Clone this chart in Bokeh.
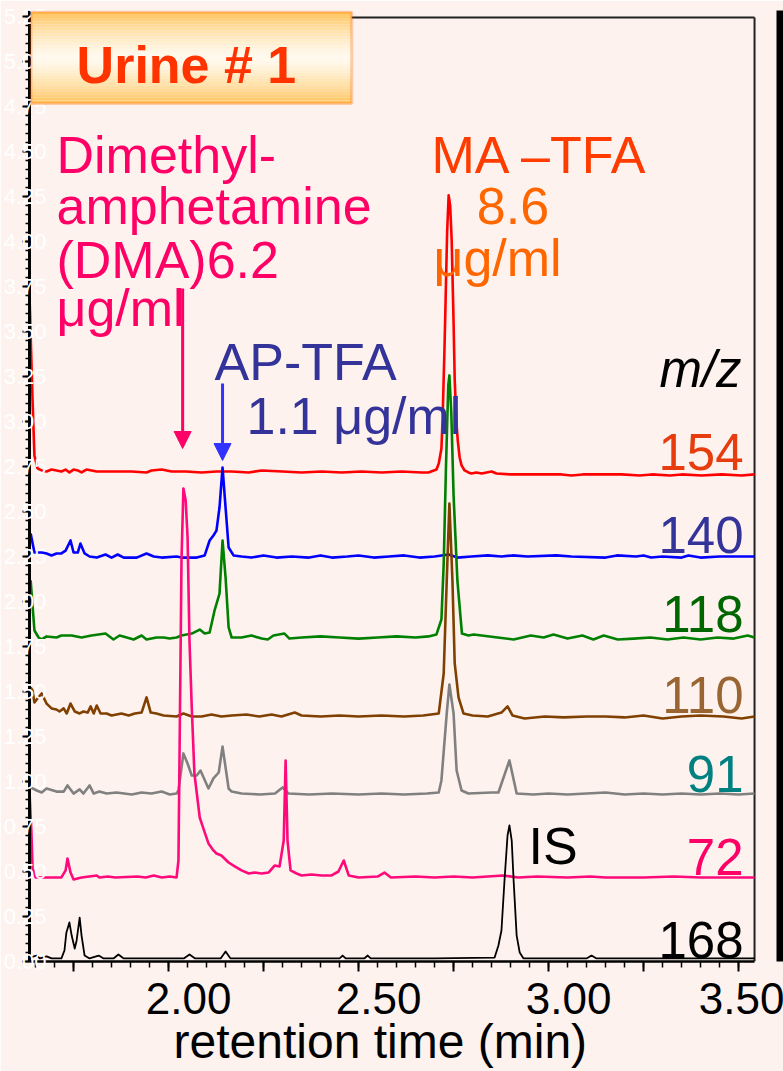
from bokeh.plotting import figure
from bokeh.models import (Range1d, SingleIntervalTicker, FixedTicker, Label, BoxAnnotation,
                          Arrow, NormalHead, NumeralTickFormatter, LinearAxis,
                          CustomJSTickFormatter)
from bokeh.core.properties import value
from bokeh.embed import file_html
from bokeh.resources import INLINE

BG = "#fdf2ee"
FONT = "Liberation Sans"

# ---------------- data (retention time in min, stacked intensity) -------------
mz154 = [(1.634, 3.70), (1.642, 3.12), (1.647, 2.81), (1.655, 2.74), (1.666, 2.728), (1.679, 2.722),
         (1.692, 2.733), (1.705, 2.728), (1.718, 2.722), (1.729, 2.733), (1.739, 2.717), (1.750, 2.733),
         (1.761, 2.728), (1.771, 2.717), (1.784, 2.733), (1.811, 2.722), (1.850, 2.722), (1.903, 2.722),
         (1.942, 2.717), (1.955, 2.728), (1.982, 2.733), (2.008, 2.722), (2.045, 2.722), (2.087, 2.717),
         (2.126, 2.722), (2.166, 2.722), (2.211, 2.717), (2.245, 2.728), (2.300, 2.722), (2.350, 2.717),
         (2.403, 2.722), (2.455, 2.717), (2.508, 2.722), (2.561, 2.717), (2.613, 2.722), (2.666, 2.717),
         (2.684, 2.717), (2.705, 2.733), (2.711, 2.767), (2.718, 2.85), (2.721, 3.006), (2.726, 3.40),
         (2.729, 3.672), (2.733, 4.05), (2.737, 4.256), (2.741, 4.20), (2.745, 4.006), (2.750, 3.55),
         (2.753, 3.228), (2.758, 2.98), (2.761, 2.894), (2.766, 2.80), (2.771, 2.756), (2.779, 2.728),
         (2.789, 2.717), (2.797, 2.711), (2.810, 2.717), (2.824, 2.711), (2.837, 2.717), (2.850, 2.722),
         (2.863, 2.711), (2.900, 2.706), (2.955, 2.706), (3.034, 2.706), (3.060, 2.700), (3.090, 2.706),
         (3.139, 2.706), (3.192, 2.706), (3.240, 2.700), (3.271, 2.706), (3.320, 2.700), (3.350, 2.706),
         (3.403, 2.700), (3.455, 2.706), (3.508, 2.700), (3.542, 2.706)]

mz140 = [(1.637, 2.378), (1.647, 2.272), (1.666, 2.272), (1.679, 2.267), (1.692, 2.256), (1.705, 2.267),
         (1.718, 2.267), (1.729, 2.283), (1.742, 2.339), (1.750, 2.272), (1.761, 2.272), (1.768, 2.322),
         (1.779, 2.267), (1.792, 2.25), (1.811, 2.244), (1.834, 2.261), (1.850, 2.244), (1.866, 2.261),
         (1.882, 2.244), (1.916, 2.244), (1.942, 2.267), (1.961, 2.25), (1.982, 2.244), (2.021, 2.25),
         (2.034, 2.244), (2.074, 2.244), (2.095, 2.256), (2.108, 2.339), (2.118, 2.367), (2.126, 2.394),
         (2.134, 2.522), (2.142, 2.744), (2.150, 2.522), (2.158, 2.30), (2.171, 2.256), (2.192, 2.25),
         (2.218, 2.244), (2.250, 2.256), (2.284, 2.244), (2.324, 2.25), (2.370, 2.244), (2.400, 2.256),
         (2.430, 2.244), (2.470, 2.25), (2.500, 2.256), (2.540, 2.244), (2.580, 2.25), (2.620, 2.256),
         (2.660, 2.244), (2.700, 2.25), (2.737, 2.261), (2.760, 2.244), (2.797, 2.25), (2.840, 2.256),
         (2.876, 2.25), (2.905, 2.256), (2.945, 2.25), (3.020, 2.256), (3.060, 2.25), (3.150, 2.244),
         (3.180, 2.256), (3.230, 2.25), (3.250, 2.256), (3.270, 2.244), (3.300, 2.25), (3.350, 2.244),
         (3.368, 2.256), (3.400, 2.244), (3.450, 2.25), (3.542, 2.25)]

mz118 = [(1.637, 2.117), (1.647, 1.839), (1.658, 1.80), (1.666, 1.789), (1.679, 1.806), (1.705, 1.80),
         (1.718, 1.811), (1.745, 1.811), (1.771, 1.80), (1.797, 1.811), (1.834, 1.822), (1.855, 1.789),
         (1.871, 1.811), (1.890, 1.80), (1.908, 1.789), (1.929, 1.811), (1.942, 1.789), (1.968, 1.80),
         (1.987, 1.80), (2.003, 1.794), (2.021, 1.80), (2.034, 1.811), (2.061, 1.822), (2.082, 1.844),
         (2.095, 1.822), (2.108, 1.828), (2.121, 1.95), (2.134, 2.044), (2.142, 2.339), (2.150, 2.133),
         (2.158, 1.856), (2.166, 1.80), (2.192, 1.80), (2.218, 1.811), (2.245, 1.794), (2.261, 1.789),
         (2.276, 1.811), (2.305, 1.822), (2.318, 1.794), (2.350, 1.80), (2.400, 1.806), (2.450, 1.80),
         (2.500, 1.794), (2.550, 1.80), (2.600, 1.806), (2.650, 1.80), (2.684, 1.806), (2.705, 1.817),
         (2.718, 1.90), (2.724, 2.21), (2.730, 2.75), (2.736, 3.20), (2.739, 3.256), (2.744, 3.05),
         (2.750, 2.589), (2.760, 2.117), (2.772, 1.822), (2.789, 1.811), (2.803, 1.817), (2.866, 1.80),
         (2.908, 1.789), (2.953, 1.811), (2.987, 1.80), (3.013, 1.817), (3.050, 1.794), (3.089, 1.811),
         (3.118, 1.789), (3.145, 1.811), (3.182, 1.789), (3.224, 1.794), (3.268, 1.80), (3.313, 1.789),
         (3.355, 1.80), (3.400, 1.789), (3.445, 1.80), (3.487, 1.794), (3.524, 1.811), (3.542, 1.80)]

mz110 = [(1.637, 1.522), (1.642, 1.506), (1.647, 1.439), (1.655, 1.461), (1.666, 1.489), (1.679, 1.433),
         (1.692, 1.406), (1.705, 1.40), (1.713, 1.389), (1.724, 1.406), (1.732, 1.378), (1.742, 1.433),
         (1.753, 1.389), (1.766, 1.378), (1.776, 1.389), (1.787, 1.383), (1.795, 1.417), (1.803, 1.378),
         (1.811, 1.422), (1.821, 1.378), (1.837, 1.378), (1.850, 1.367), (1.876, 1.378), (1.895, 1.367),
         (1.911, 1.378), (1.929, 1.383), (1.942, 1.467), (1.953, 1.383), (1.968, 1.378), (1.987, 1.367),
         (2.021, 1.361), (2.039, 1.378), (2.061, 1.361), (2.087, 1.361), (2.113, 1.372), (2.139, 1.361),
         (2.166, 1.367), (2.205, 1.372), (2.239, 1.361), (2.271, 1.372), (2.297, 1.361), (2.332, 1.383),
         (2.350, 1.367), (2.400, 1.361), (2.450, 1.367), (2.500, 1.361), (2.560, 1.367), (2.620, 1.361),
         (2.670, 1.367), (2.711, 1.378), (2.724, 1.60), (2.732, 2.117), (2.739, 2.544), (2.747, 2.117),
         (2.753, 1.656), (2.763, 1.467), (2.776, 1.378), (2.800, 1.367), (2.840, 1.361), (2.876, 1.383),
         (2.892, 1.417), (2.905, 1.367), (2.937, 1.35), (2.990, 1.361), (3.040, 1.356), (3.100, 1.361),
         (3.150, 1.361), (3.200, 1.356), (3.250, 1.367), (3.300, 1.350), (3.350, 1.361), (3.400, 1.367),
         (3.460, 1.361), (3.508, 1.350), (3.542, 1.361)]

mz91 = [(1.637, 0.967), (1.653, 0.95), (1.666, 0.939), (1.679, 0.961), (1.705, 0.944), (1.724, 0.944),
        (1.734, 0.978), (1.750, 0.933), (1.766, 0.956), (1.776, 0.933), (1.792, 0.978), (1.803, 0.933),
        (1.818, 0.944), (1.837, 0.933), (1.863, 0.939), (1.903, 0.928), (1.929, 0.939), (1.955, 0.933),
        (1.982, 0.944), (2.003, 0.928), (2.021, 0.933), (2.026, 0.95), (2.039, 1.156), (2.050, 1.10),
        (2.061, 1.033), (2.074, 1.033), (2.084, 1.061), (2.105, 0.961), (2.118, 1.017), (2.132, 1.05),
        (2.142, 1.194), (2.158, 0.961), (2.166, 0.944), (2.192, 0.933), (2.240, 0.928), (2.280, 0.933),
        (2.300, 0.967), (2.316, 0.933), (2.370, 0.928), (2.430, 0.933), (2.500, 0.928), (2.560, 0.933),
        (2.620, 0.928), (2.680, 0.933), (2.711, 0.939), (2.718, 1.006), (2.732, 1.378), (2.739, 1.539),
        (2.750, 1.378), (2.758, 1.061), (2.771, 0.95), (2.789, 0.933), (2.850, 0.939), (2.868, 0.939),
        (2.897, 1.117), (2.916, 0.933), (2.960, 0.928), (3.000, 0.933), (3.050, 0.928), (3.100, 0.933),
        (3.150, 0.939), (3.200, 0.928), (3.250, 0.933), (3.300, 0.928), (3.350, 0.933), (3.400, 0.928),
        (3.450, 0.933), (3.500, 0.928), (3.542, 0.933)]

mz72 = [(1.634, 0.939), (1.639, 0.72), (1.642, 0.517), (1.650, 0.467), (1.680, 0.467), (1.718, 0.467),
        (1.729, 0.506), (1.734, 0.572), (1.742, 0.494), (1.750, 0.456), (1.771, 0.467), (1.811, 0.478),
        (1.818, 0.467), (1.840, 0.472), (1.860, 0.467), (1.918, 0.472), (1.940, 0.467), (1.961, 0.478),
        (1.982, 0.467), (2.003, 0.472), (2.021, 0.467), (2.026, 0.561), (2.031, 1.60), (2.034, 2.228),
        (2.039, 2.628), (2.045, 2.561), (2.050, 2.356), (2.055, 1.783), (2.061, 1.411), (2.068, 1.044),
        (2.082, 0.80), (2.095, 0.717), (2.105, 0.656), (2.118, 0.617), (2.126, 0.60), (2.139, 0.589),
        (2.158, 0.55), (2.174, 0.528), (2.192, 0.506), (2.211, 0.489), (2.226, 0.494), (2.245, 0.489),
        (2.263, 0.494), (2.279, 0.533), (2.292, 0.528), (2.303, 0.672), (2.308, 1.117), (2.313, 0.672),
        (2.321, 0.506), (2.337, 0.489), (2.350, 0.478), (2.376, 0.483), (2.403, 0.478), (2.429, 0.478),
        (2.447, 0.50), (2.461, 0.561), (2.474, 0.478), (2.500, 0.467), (2.550, 0.472), (2.568, 0.494),
        (2.585, 0.467), (2.650, 0.472), (2.700, 0.467), (2.750, 0.472), (2.800, 0.467), (2.880, 0.478),
        (2.920, 0.467), (2.970, 0.472), (3.050, 0.467), (3.110, 0.472), (3.150, 0.467), (3.250, 0.467),
        (3.330, 0.472), (3.400, 0.467), (3.450, 0.467), (3.542, 0.467)]

mz168 = [(1.634, 0.017), (1.645, 0.028), (1.653, 0.033), (1.661, 0.017), (1.679, 0.028), (1.692, 0.017),
         (1.718, 0.017), (1.726, 0.061), (1.731, 0.16), (1.739, 0.217), (1.745, 0.144), (1.753, 0.072),
         (1.758, 0.117), (1.766, 0.244), (1.771, 0.144), (1.779, 0.033), (1.792, 0.017), (1.816, 0.033),
         (1.829, 0.017), (1.855, 0.017), (1.868, 0.039), (1.882, 0.017), (1.950, 0.017), (2.040, 0.017),
         (2.055, 0.039), (2.070, 0.017), (2.137, 0.017), (2.150, 0.056), (2.163, 0.017), (2.300, 0.017),
         (2.450, 0.017), (2.458, 0.033), (2.466, 0.017), (2.515, 0.017), (2.524, 0.033), (2.532, 0.017),
         (2.700, 0.017), (2.858, 0.022), (2.868, 0.089), (2.876, 0.172), (2.884, 0.45), (2.892, 0.70),
         (2.897, 0.756), (2.903, 0.672), (2.908, 0.45), (2.916, 0.144), (2.924, 0.05), (2.934, 0.017),
         (3.100, 0.017), (3.113, 0.033), (3.126, 0.017), (3.542, 0.017)]

mz_labels = ["154", "140", "118", "110", "91", "72", "168"]
mz_label_y = [2.728, 2.272, 1.828, 1.383, 0.939, 0.478, 0.017]
mz_label_colors = ["#e63c0e", "#333399", "#006600", "#996633", "#008080", "#ff0066", "#000000"]
traces = [mz154, mz140, mz118, mz110, mz91, mz72, mz168]
trace_colors = ["#ff0000", "#0000ff", "#008000", "#804000", "#808080", "#ff0a7a", "#000000"]
trace_widths = [2.6, 2.6, 2.6, 2.6, 2.6, 2.6, 1.8]

x_tick_values = [2.0, 2.5, 3.0, 3.5]

# ---------------- figure -------------
PX_X = 380.0    # pixels per minute
PX_Y = 180.0    # pixels per intensity unit
X0, X1 = 1.634, 1.634 + 755 / PX_X
Y1 = 951 / PX_Y
TXT_FIX = 18 / PX_Y   # baseline correction of the svg text engine

p = figure(frame_width=755, frame_height=951,
           x_range=Range1d(X0, X1), y_range=Range1d(0, Y1),
           output_backend="svg", toolbar_location=None,
           min_border_left=28, min_border_right=0, min_border_top=10, min_border_bottom=110,
           background_fill_color=BG, border_fill_color=BG)
p.grid.visible = False
p.outline_line_color = None

# main x axis: ticks only
xa = p.xaxis[0]
xa.bounds = (X0, 3.542)
xa.ticker = SingleIntervalTicker(interval=0.25, num_minor_ticks=5)
xa.formatter = CustomJSTickFormatter(code="return ''")
xa.major_tick_out = 10
xa.major_tick_in = 0
xa.minor_tick_out = 6
xa.minor_tick_in = 0
xa.axis_line_width = 2.5
xa.major_tick_line_width = 2
xa.minor_tick_line_width = 1.5
xa.major_label_standoff = 0

# tick-label axis, shifted 20px to the right as in the original
shift = 20 / PX_X
p.extra_x_ranges = {"lbl": Range1d(X0 - shift, X1 - shift)}
la = LinearAxis(x_range_name="lbl", ticker=FixedTicker(ticks=x_tick_values),
                formatter=NumeralTickFormatter(format="0.00"))
la.axis_line_color = None
la.major_tick_line_color = None
la.minor_tick_line_color = None
la.major_tick_out = 0
la.major_tick_in = 0
la.minor_tick_out = 0
la.minor_tick_in = 0
la.major_label_standoff = 11
la.major_label_text_font = FONT
la.major_label_text_font_size = "44px"
la.major_label_text_color = "black"
p.add_layout(la, "below")

# axis title (trailing no-break spaces move the centred title to its place)
ta = LinearAxis(ticker=FixedTicker(ticks=[]))
ta.axis_line_color = None
ta.major_tick_line_color = None
ta.minor_tick_line_color = None
ta.major_tick_out = 0
ta.minor_tick_out = 0
ta.major_label_standoff = 0
ta.axis_label = "retention time (min)" + "\u00a0" * 4
ta.axis_label_text_font = FONT
ta.axis_label_text_font_size = "48px"
ta.axis_label_text_font_style = "normal"
ta.axis_label_text_color = "black"
ta.axis_label_standoff = -2
p.add_layout(ta, "below")

ya = p.yaxis[0]
ya.ticker = SingleIntervalTicker(interval=0.25, num_minor_ticks=5)
ya.formatter = NumeralTickFormatter(format="0.00")
ya.major_tick_out = 7
ya.major_tick_in = 0
ya.minor_tick_out = 4
ya.minor_tick_in = 0
ya.axis_line_width = 3
ya.major_tick_line_width = 2
ya.minor_tick_line_width = 1.5
ya.major_label_text_color = "white"
ya.major_label_text_font = FONT
ya.major_label_text_font_size = "22px"
ya.major_label_standoff = -24

# plot box: top and right edges
p.segment(x0=[X0, 3.542], y0=[5.244, 0], x1=[3.542, 3.542], y1=[5.244, 5.244],
          line_color="#222222", line_width=2)

# traces
for tr, col, lw in zip(traces, trace_colors, trace_widths):
    tx, ty = zip(*tr)
    p.line(list(tx), list(ty), line_color=col, line_width=lw, line_join="round")

# m/z labels
p.text(x=[3.513] * len(mz_labels), y=[v + TXT_FIX for v in mz_label_y], text=mz_labels,
       text_color=mz_label_colors, text_font=value(FONT), text_font_size=value("51px"),
       text_align="right", text_baseline="alphabetic")
p.text(x=[3.508], y=[3.189 + TXT_FIX], text=["m/z"], text_color="black", text_font=value(FONT),
       text_font_size=value("51px"), text_font_style="italic", text_align="right",
       text_baseline="alphabetic")

# compound annotations
ann_x = [1.705, 1.705, 1.705, 1.705, 2.692, 2.811, 2.697, 2.121, 2.205, 2.947]
ann_y = [4.378, 4.100, 3.800, 3.533, 4.378, 4.100, 3.811, 3.228, 2.928, 0.544]
ann_t = ["Dimethyl-", "amphetamine", "(DMA)6.2", "μg/ml", "MA –TFA", "8.6", "μg/ml",
         "AP-TFA", "1.1 μg/ml", "IS"]
ann_c = ["#ff0066"] * 4 + ["#ff3c00", "#ff6600", "#ff6600", "#333399", "#333399", "#000000"]
p.text(x=ann_x, y=[v + TXT_FIX for v in ann_y], text=ann_t, text_color=ann_c,
       text_font=value(FONT), text_font_size=value("52px"), text_align="left",
       text_baseline="alphabetic")

p.add_layout(Arrow(end=NormalHead(size=17, fill_color="#ff0066", line_color="#ff0066"),
                   x_start=2.037, y_start=3.739, x_end=2.037, y_end=2.85,
                   line_color="#ff0066", line_width=3))
p.add_layout(Arrow(end=NormalHead(size=17, fill_color="#3333ff", line_color="#3333ff"),
                   x_start=2.142, y_start=3.211, x_end=2.142, y_end=2.783,
                   line_color="#3333ff", line_width=3))

# title box with vertical gradient
tb_l, tb_r, tb_b, tb_t = X0 + 1.5 / PX_X, 2.482, 4.767, Y1 - 1.5 / PX_Y
edge = (255, 196, 92)
mid = (255, 250, 238)
n = 30
for k in range(n):
    f = (k + 0.5) / n
    w = 1 - abs(2 * f - 1) ** 1.4
    c = tuple(int(round(edge[j] * (1 - w) + mid[j] * w)) for j in range(3))
    top = tb_t - (tb_t - tb_b) * k / n
    bot = tb_t - (tb_t - tb_b) * (k + 1) / n
    p.add_layout(BoxAnnotation(left=tb_l, right=tb_r, bottom=bot, top=top,
                               fill_color="#%02x%02x%02x" % c, fill_alpha=1.0, line_color=None))
p.add_layout(BoxAnnotation(left=tb_l, right=tb_r, bottom=tb_b, top=tb_t, fill_alpha=0,
                           line_color="#ff6600", line_width=3))
p.add_layout(Label(x=1.758, y=4.883 + TXT_FIX, text="Urine # 1", text_font=FONT,
                   text_font_size="52px", text_font_style="bold", text_color="#ff3300",
                   text_baseline="alphabetic"))

# slide frame on the right
p.add_layout(BoxAnnotation(left=X0 + 747 / PX_X, right=X1 + 0.05, bottom=-1, top=Y1 + 1,
                           fill_color="black", fill_alpha=1.0, line_color=None))

open("out.html", "w").write(file_html(p, INLINE))
